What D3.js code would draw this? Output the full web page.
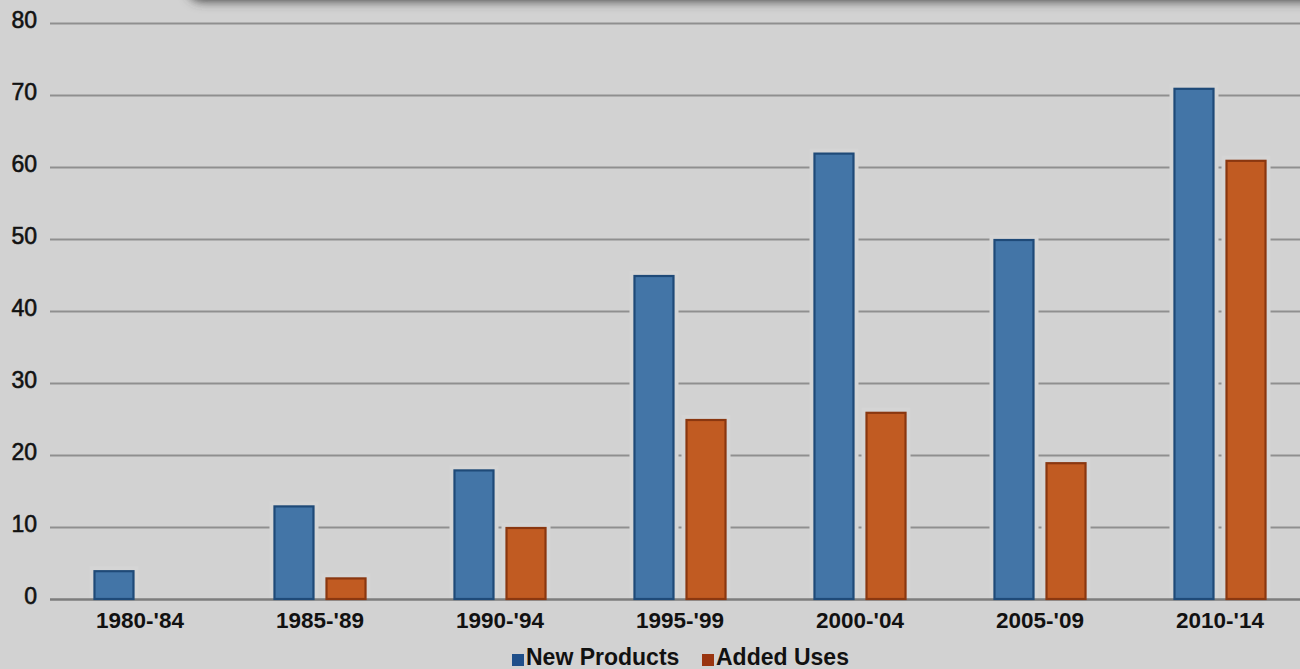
<!DOCTYPE html>
<html>
<head>
<meta charset="utf-8">
<script src="https://cdn.jsdelivr.net/npm/d3@7"></script>
<style>
  html, body { margin: 0; padding: 0; background: #d2d2d2; }
  svg { display: block; }
  text { font-family: "Liberation Sans", Arial, Helvetica, sans-serif; fill: #111; }
</style>
</head>
<body>
<svg id="chart" width="1300" height="669"></svg>
<script>
// Approvals per five-year period
const categories = ["1980-'84", "1985-'89", "1990-'94", "1995-'99", "2000-'04", "2005-'09", "2010-'14"];
const seriesNames = ["New Products", "Added Uses"];
const newProducts = [4, 13, 18, 45, 62, 50, 71];
const addedUses = [0, 3, 10, 25, 26, 19, 61];
const yTicks = [0, 10, 20, 30, 40, 50, 60, 70, 80];

const colors = {
  "New Products": { fill: "#4375a7", edge: "#1f4a78", key: "#1f4f8a" },
  "Added Uses":   { fill: "#c15b22", edge: "#8a3710", key: "#9a3510" }
};

const rows = categories.map((c, i) => ({
  category: c,
  values: [
    { series: "New Products", value: newProducts[i] },
    { series: "Added Uses", value: addedUses[i] }
  ]
}));

const svg = d3.select("#chart");
const W = 1300, H = 669;

const defs = svg.append("defs");
defs.append("filter").attr("id", "soft")
  .attr("x", "-10%").attr("y", "-200%").attr("width", "120%").attr("height", "500%")
  .append("feGaussianBlur").attr("stdDeviation", 5.5);

// background
svg.append("rect").attr("width", W).attr("height", H).attr("fill", "#d2d2d2");

// shadow cast by the panel above the chart
svg.append("rect")
  .attr("x", 188).attr("y", -40).attr("width", 1200).attr("height", 41)
  .attr("rx", 14)
  .attr("fill", "#3c3c3c")
  .attr("filter", "url(#soft)");

// scales
const x = d3.scaleBand()
  .domain(categories)
  .range([50, 1310])
  .paddingInner(0.483)
  .paddingOuter(0.2415);

const xInner = d3.scaleBand()
  .domain(seriesNames)
  .range([0, x.bandwidth()])
  .paddingInner(0.2115);

const y = d3.scaleLinear().domain([0, 80]).range([599, 23]);

// gridlines
const grid = svg.append("g")
  .attr("transform", "translate(50,0)")
  .call(d3.axisLeft(y).tickValues(yTicks).tickSize(-1300).tickFormat(""));
grid.select(".domain").remove();
grid.selectAll(".tick line")
  .attr("stroke", d => d === 0 ? "#7d7d7d" : "#8f8f8f")
  .attr("stroke-width", d => d === 0 ? 2.6 : 2);

// y tick labels
const yAxis = svg.append("g")
  .attr("transform", "translate(37,0)")
  .call(d3.axisLeft(y).tickValues(yTicks).tickSize(0).tickPadding(0));
yAxis.select(".domain").remove();
yAxis.selectAll("text")
  .attr("font-size", 23)
  .attr("dy", "0.2em")
  .attr("fill", "#151515")
  .attr("stroke", "#151515").attr("stroke-width", 0.6)
  .style("font-family", "'Liberation Sans', Arial, sans-serif");

// bars
const groups = svg.append("g").selectAll("g")
  .data(rows).join("g")
  .attr("transform", d => `translate(${x(d.category)},0)`);

const bars = groups.selectAll("g.bar")
  .data(d => d.values.filter(v => v.value > 0))
  .join("g").attr("class", "bar");

// light halo around each bar, breaking the gridlines
bars.append("rect")
  .attr("x", d => xInner(d.series) - 4)
  .attr("y", d => y(d.value) - 4)
  .attr("width", xInner.bandwidth() + 8)
  .attr("height", d => y(0) - y(d.value) + 3)
  .attr("fill", "#d5d5d5");

bars.append("rect")
  .attr("x", d => xInner(d.series) + 1)
  .attr("y", d => y(d.value) + 1)
  .attr("width", xInner.bandwidth() - 2)
  .attr("height", d => y(0) - y(d.value) - 1)
  .attr("fill", d => colors[d.series].fill)
  .attr("stroke", d => colors[d.series].edge)
  .attr("stroke-width", 2.2);

// category labels
const xAxis = svg.append("g")
  .attr("transform", "translate(0,600)")
  .call(d3.axisBottom(x).tickSize(0).tickPadding(0));
xAxis.select(".domain").remove();
xAxis.selectAll("text")
  .attr("y", 28)
  .attr("dy", 0)
  .attr("font-size", 22.5)
  .attr("font-weight", "bold")
  .attr("fill", "#151515")
  .style("font-family", "'Liberation Sans', Arial, sans-serif");

// legend
const legend = svg.append("g");
const legendItems = [
  { name: "New Products", sx: 512, tx: 526 },
  { name: "Added Uses", sx: 702, tx: 716 }
];
legendItems.forEach(it => {
  legend.append("rect")
    .attr("x", it.sx).attr("y", 654).attr("width", 12).attr("height", 12)
    .attr("fill", colors[it.name].key);
  legend.append("text")
    .attr("x", it.tx).attr("y", 665)
    .attr("font-size", 23).attr("font-weight", "bold")
    .attr("fill", "#111")
    .text(it.name);
});
</script>
</body>
</html>
